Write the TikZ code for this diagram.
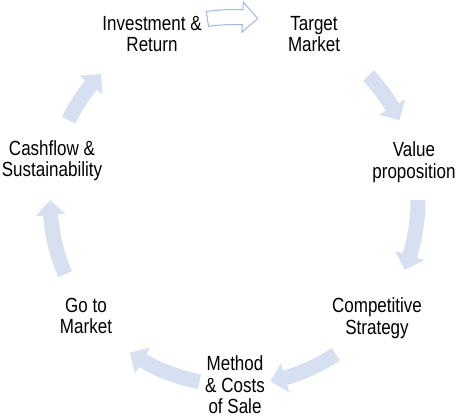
\documentclass[tikz,border=0pt]{standalone}
\usepackage{fontspec}
\setmainfont[FakeStretch=0.83]{Liberation Sans}
\definecolor{arrowfill}{RGB}{214,224,241}
\definecolor{arrowline}{RGB}{160,185,228}
\begin{document}
\begin{tikzpicture}[x=1pt,y=1pt,
  lbl/.style={align=center, font=\fontsize{20.5}{21.5}\selectfont, inner sep=0pt},
  solidarrow/.style={fill=arrowfill},
  openarrow/.style={fill=white, draw=arrowline, line width=1pt, line join=miter}]
\useasboundingbox (0,0) rectangle (458,417);
\pgfmathsetmacro\R{184}
\pgfmathsetmacro\ro{\R+7.5}
\pgfmathsetmacro\ri{\R-7.5}
\pgfmathsetmacro\rho{\R+15}
\pgfmathsetmacro\rhi{\R-15}
\newcommand\cyclearrow[3]{%
  \pgfmathsetmacro\ah{#2+4.7}%
  \path[#3] (#1:\ro) arc[start angle=#1,end angle=\ah,radius=\ro]
    -- (\ah:\rho) -- (#2:\R) -- (\ah:\rhi) -- (\ah:\ri)
    arc[start angle=\ah,end angle=#1,radius=\ri] -- cycle;}
\begin{scope}[shift={(234,216)}]
  \cyclearrow{98.3}{82.6}{openarrow}
  \cyclearrow{43}{26}{solidarrow}
  \cyclearrow{0.3}{-22}{solidarrow}
  \cyclearrow{-56.4}{-78.6}{solidarrow}
  \cyclearrow{-100.8}{-124.5}{solidarrow}
  \cyclearrow{-156.6}{-180.3}{solidarrow}
  \cyclearrow{-206}{-223.7}{solidarrow}
\end{scope}
\node[lbl] (inv) at (152,383) {Investment \&\\Return};
\node[lbl] (tgt) at (314,383) {Target\\Market};
\node[lbl] (val) at (414,255) {Value\\proposition};
\node[lbl] (cmp) at (377,99) {Competitive\\Strategy};
\node[lbl] (mth) at (235,32) {Method\\\& Costs\\of Sale};
\node[lbl] (gtm) at (86,101) {Go to\\Market};
\node[lbl] (csh) at (52,256.5) {Cashflow \&\\Sustainability};
\end{tikzpicture}
\end{document}
